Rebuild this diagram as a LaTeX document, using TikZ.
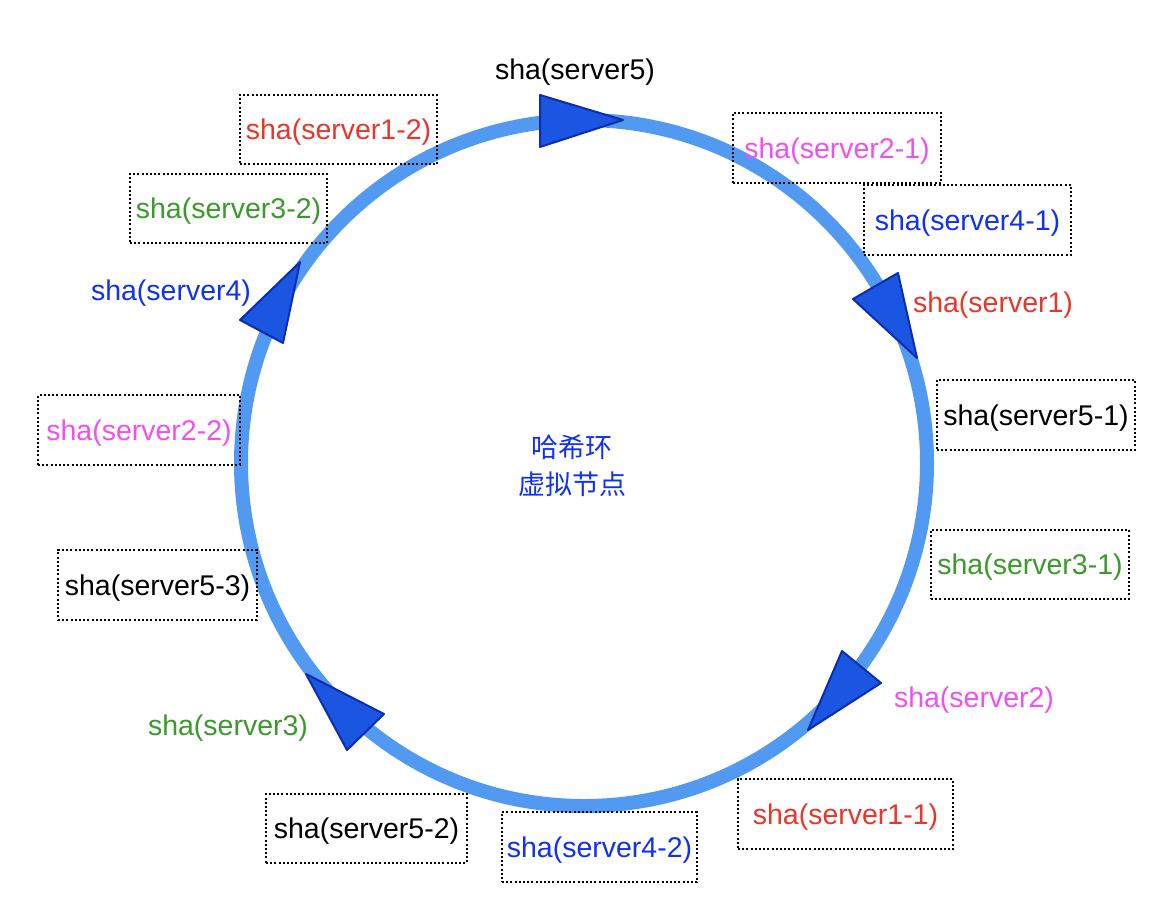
\documentclass[tikz,border=0pt]{standalone}
\usepackage{fontspec}
\setmainfont{Liberation Sans}
\newfontfamily\cjk{Noto Sans CJK SC}
\definecolor{ringblue}{HTML}{5299F2}
\definecolor{trifill}{HTML}{1A56E2}
\definecolor{triline}{HTML}{0B2DB0}
\definecolor{tred}{HTML}{E8362B}
\definecolor{tmag}{HTML}{F050F0}
\definecolor{tgreen}{HTML}{3B9A2C}
\definecolor{tblue}{HTML}{1030F2}
\begin{document}
\begin{tikzpicture}[x=1pt,y=-1pt,
  lbl/.style={font=\fontsize{28.5}{34}\selectfont, inner sep=0pt},
  box/.style={lbl, text depth=0pt, draw=black, line width=2pt, dash pattern=on 2pt off 2.2pt},
  tri/.style={fill=trifill, draw=triline, line width=2pt, line join=round}]
\useasboundingbox (0,0) rectangle (1166,910);
\fill[white] (0,0) rectangle (1166,910);
% ring
\coordinate (c) at (584,463);
\draw[ringblue, line width=14pt] (c) circle[radius=343];
% triangles
\draw[tri] (540,95) -- (540,147) -- (623,120) -- cycle;
\draw[tri] (853,299) -- (898,273) -- (917,358) -- cycle;
\draw[tri] (842,651) -- (881,683) -- (808,730) -- cycle;
\draw[tri] (384,714) -- (347,750) -- (306,674) -- cycle;
\draw[tri] (240,320) -- (283,343) -- (300,262) -- cycle;
% plain labels
\node[lbl, text=black] (s5) at (575,72) {sha(server5)};
\node[lbl, text=tred] (s1) at (993,305) {sha(server1)};
\node[lbl, text=tmag] (s2) at (974,700) {sha(server2)};
\node[lbl, text=tgreen] (s3) at (228,728) {sha(server3)};
\node[lbl, text=tblue] (s4) at (171,293) {sha(server4)};
% boxed labels
\node[box, text=tred, minimum width=197pt, minimum height=69pt] (s12) at (338.5,129.5) {sha(server1-2)};
\node[box, text=tgreen, minimum width=197pt, minimum height=69pt] (s32) at (228.5,208.5) {sha(server3-2)};
\node[box, text=tmag, minimum width=208pt, minimum height=70pt] (s21) at (837,148) {sha(server2-1)};
\node[box, text=tblue, minimum width=207pt, minimum height=70pt] (s41) at (967.5,220) {sha(server4-1)};
\node[box, text=black, minimum width=198pt, minimum height=70pt] (s51) at (1036,415) {sha(server5-1)};
\node[box, text=tgreen, minimum width=198pt, minimum height=69pt] (s31) at (1030,564.5) {sha(server3-1)};
\node[box, text=tmag, minimum width=202pt, minimum height=70pt] (s22) at (139,430) {sha(server2-2)};
\node[box, text=black, minimum width=199pt, minimum height=70pt] (s53) at (157.5,585) {sha(server5-3)};
\node[box, text=black, minimum width=201pt, minimum height=69pt] (s52) at (366.5,828.5) {sha(server5-2)};
\node[box, text=tblue, minimum width=195pt, minimum height=70pt] (s42) at (599.5,847) {sha(server4-2)};
\node[box, text=tred, minimum width=215pt, minimum height=70pt] (s11) at (845.5,814) {sha(server1-1)};
% center text
\node[inner sep=0pt, text=tblue, align=center, font=\cjk\fontsize{27}{37}\selectfont] (ctr) at (572,466) {哈希环\\虚拟节点};
\end{tikzpicture}
\end{document}
